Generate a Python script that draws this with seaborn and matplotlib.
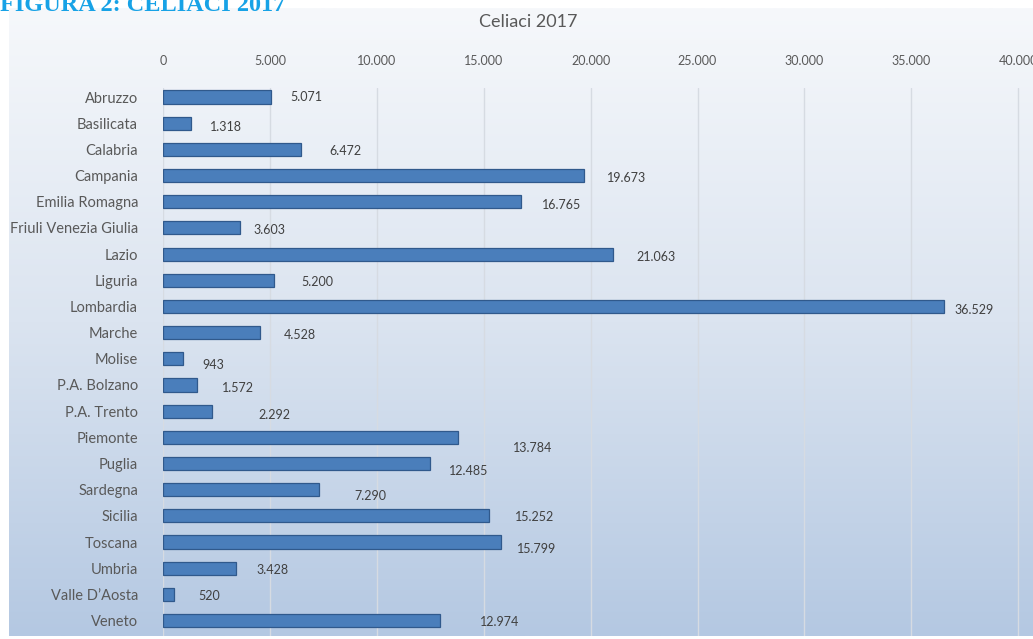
import numpy as np
import pandas as pd
import matplotlib
matplotlib.use("Agg")
import matplotlib.pyplot as plt
import seaborn as sns
from matplotlib.colors import LinearSegmentedColormap

# ---------------- data ----------------
regions = ["Abruzzo", "Basilicata", "Calabria", "Campania", "Emilia Romagna",
           "Friuli Venezia Giulia", "Lazio", "Liguria", "Lombardia", "Marche",
           "Molise", "P.A. Bolzano", "P.A. Trento", "Piemonte", "Puglia",
           "Sardegna", "Sicilia", "Toscana", "Umbria", "Valle D’Aosta", "Veneto"]
celiaci = [5071, 1318, 6472, 19673, 16765, 3603, 21063, 5200, 36529, 4528,
           943, 1572, 2292, 13784, 12485, 7290, 15252, 15799, 3428, 520, 12974]
x_ticks = [0, 5000, 10000, 15000, 20000, 25000, 30000, 35000, 40000]
x_tick_labels = ["0", "5.000", "10.000", "15.000", "20.000", "25.000",
                 "30.000", "35.000", "40.000"]
title = "Celiaci 2017"
header = "FIGURA 2: CELIACI 2017"

# label nudges (layout only, pixels: right, down)
label_dx = [19, 19, 28, 23, 21, 13, 23, 27, 10, 24, 19, 25, 46, 55, 19, 36, 26, 16, 20, 24, 40]
label_dy = [0, 4, 2, 2, 3, 2, 3, 2, 4, 2, 6, 3, 4, 11, 8, 6, 1, 7, 2, 2, 1]

# ---------------- style ----------------
sns.set_theme(style="white")
plt.rcParams['font.family'] = ['Lato', 'DejaVu Sans']

W, H = 1033, 639
fig = plt.figure(figsize=(W / 100, H / 100), dpi=100)
fig.patch.set_facecolor("white")


def fx(px):
    return px / W


def fy(py):
    return 1 - py / H


# gradient panel background
bg = fig.add_axes([fx(9), fy(636), 1 - fx(9), (636 - 8) / H], zorder=0)
grad = np.linspace(0, 1, 256).reshape(-1, 1)
cmap = LinearSegmentedColormap.from_list("bg", ["#f6f8fb", "#dbe4f0", "#b4c8e2"])
bg.imshow(grad, aspect="auto", cmap=cmap)
bg.axis("off")

# main axes
ax = fig.add_axes([fx(163), fy(636), 1 - fx(163), (636 - 88) / H], zorder=1)
ax.patch.set_alpha(0)

df = pd.DataFrame({"Regione": regions, "Celiaci": celiaci})
sns.barplot(data=df, y="Regione", x="Celiaci", orient="h", color="#4a7ebb",
            saturation=1, edgecolor="#30598c", linewidth=0.9, width=0.5, ax=ax)

ax.set_xlim(0, 40690)
ax.set_ylim(20.59, -0.344)
ax.set_xticks(x_ticks)
ax.set_xticklabels(x_tick_labels)
ax.xaxis.tick_top()
ax.grid(axis="x", color="#d6dbe2", linewidth=1)
ax.grid(axis="y", visible=False)
ax.set_axisbelow(True)
ax.tick_params(axis="x", length=0, pad=15, labelsize=9, labelcolor="#595959")
ax.tick_params(axis="y", length=0, pad=18, labelsize=10.5, labelcolor="#595959")
ax.set_xlabel("")
ax.set_ylabel("")
for s in ax.spines.values():
    s.set_visible(False)


def fmt(v):
    return f"{v:,}".replace(",", ".")


for i, v in enumerate(celiaci):
    ax.annotate(fmt(v), xy=(v, i), xytext=(label_dx[i], -label_dy[i]),
                textcoords="offset pixels", ha="left", va="center",
                fontsize=9, color="#404040")

fig.text(fx(528), fy(22), title, ha="center", va="center", fontsize=13,
         color="#595959")
fig.text(0, fy(11), header, ha="left", va="baseline", fontsize=17.5,
         fontweight="bold", family=["Liberation Serif", "DejaVu Serif"],
         color="#17a2e6", zorder=5)

fig.savefig("out.png", dpi=100)
